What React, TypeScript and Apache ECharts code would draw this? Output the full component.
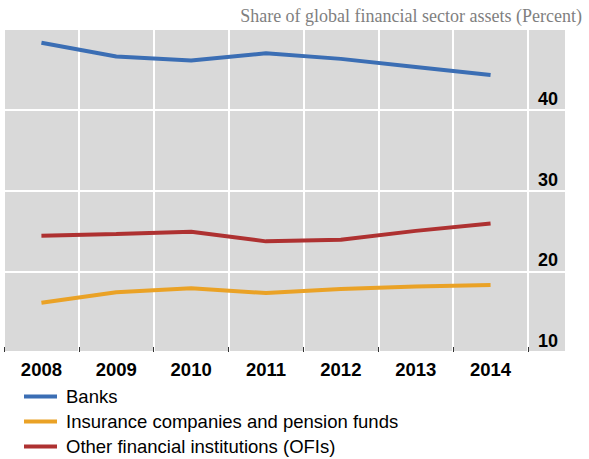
import React, { useEffect, useRef } from "react";
import * as echarts from "echarts";

const years = ["2008", "2009", "2010", "2011", "2012", "2013", "2014"];
const banks = [48.3, 46.6, 46.1, 47.0, 46.3, 45.3, 44.3];
const insurance = [16.1, 17.4, 17.9, 17.3, 17.8, 18.1, 18.3];
const ofis = [24.4, 24.6, 24.9, 23.7, 23.9, 25.0, 25.9];
const seriesNames = [
  "Banks",
  "Insurance companies and pension funds",
  "Other financial institutions (OFIs)",
];
const colors = ["#3b6eb4", "#eaa226", "#ae3131"];
const yMin = 10;
const yMax = 50;
const yStep = 10;
const titleText = "Share of global financial sector assets (Percent)";

export default function App() {
  const ref = useRef<HTMLDivElement>(null);
  useEffect(() => {
    if (!ref.current) return;
    const chart = echarts.init(ref.current, undefined, { renderer: "svg" });
    const bg = "#d9d9d9";
    const sans = "'Liberation Sans', Arial, sans-serif";
    chart.setOption({
      animation: false,
      backgroundColor: "#ffffff",
      title: {
        text: titleText,
        right: 2,
        top: 2,
        textStyle: {
          fontFamily: "'Liberation Serif', 'Times New Roman', serif",
          fontWeight: "normal",
          fontSize: 18,
          color: "#7f7f7f",
        },
      },
      legend: seriesNames.map((n, i) => ({
        orient: "horizontal",
        left: 24,
        top: 387 + i * 25,
        icon: "rect",
        itemWidth: 33,
        itemHeight: 4,
        padding: 0,
        textStyle: {
          fontFamily: sans,
          fontSize: 18.5,
          color: "#000",
          padding: [0, 0, 0, 4],
        },
        data: [n],
      })),
      grid: [
        {
          left: 4,
          top: 29,
          width: 524,
          height: 323,
          show: true,
          backgroundColor: bg,
          borderWidth: 0,
        },
        {
          left: 528,
          top: 29,
          width: 37,
          height: 323,
          show: true,
          backgroundColor: bg,
          borderWidth: 0,
        },
      ],
      xAxis: [
        {
          type: "category",
          gridIndex: 0,
          data: years,
          boundaryGap: true,
          axisLine: { show: false },
          axisTick: {
            show: true,
            inside: true,
            length: 5,
            lineStyle: { color: "#333", width: 1 },
          },
          axisLabel: {
            fontFamily: sans,
            fontWeight: "bold",
            fontSize: 18.5,
            color: "#000",
            margin: 8,
          },
          splitLine: { show: true, lineStyle: { color: "#ffffff", width: 2 } },
        },
        {
          type: "value",
          gridIndex: 1,
          show: false,
          splitLine: { show: false },
        },
      ],
      yAxis: [
        {
          type: "value",
          gridIndex: 0,
          min: yMin,
          max: yMax,
          interval: yStep,
          axisLine: { show: false },
          axisTick: { show: false },
          axisLabel: { show: false },
          splitLine: { show: true, lineStyle: { color: "#ffffff", width: 2 } },
        },
        {
          type: "value",
          gridIndex: 1,
          position: "right",
          min: yMin,
          max: yMax,
          interval: yStep,
          axisLine: { show: false },
          axisTick: { show: false },
          axisLabel: {
            inside: true,
            margin: 7,
            showMaxLabel: false,
            showMinLabel: true,
            verticalAlign: "bottom",
            padding: [0, 0, 2, 0],
            fontFamily: sans,
            fontWeight: "bold",
            fontSize: 18,
            color: "#000",
          },
          splitLine: { show: true, lineStyle: { color: "#ffffff", width: 2 } },
        },
      ],
      series: [banks, insurance, ofis].map((d, i) => ({
        name: seriesNames[i],
        type: "line",
        xAxisIndex: 0,
        yAxisIndex: 0,
        data: d,
        showSymbol: false,
        symbol: "none",
        lineStyle: { color: colors[i], width: 4 },
        itemStyle: { color: colors[i] },
        z: 3,
      })),
    });
    return () => chart.dispose();
  }, []);
  return (
    <div
      ref={ref}
      style={{ position: "absolute", left: 0, top: 0, width: 589, height: 459 }}
    />
  );
}
